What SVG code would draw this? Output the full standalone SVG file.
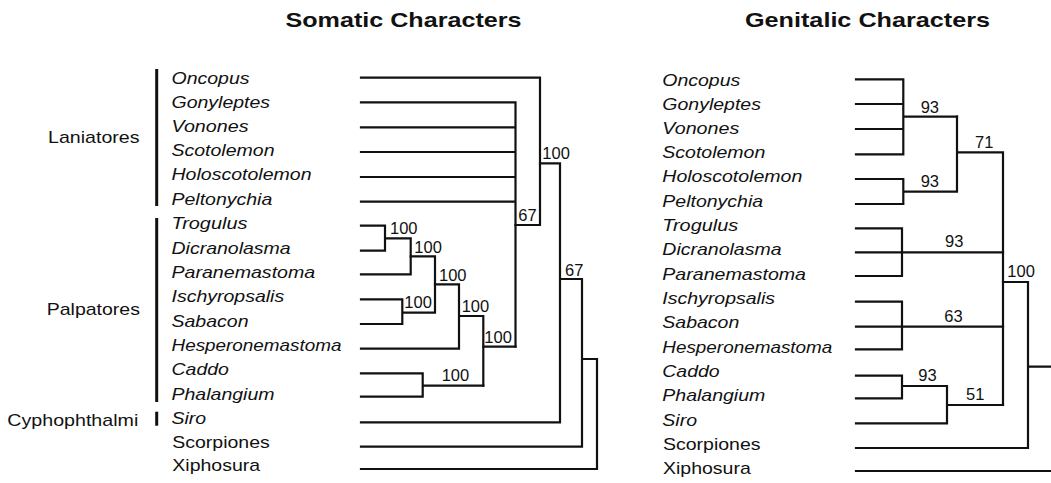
<svg xmlns="http://www.w3.org/2000/svg" width="1051" height="483" viewBox="0 0 1051 483">
<style>
.t{font-family:"Liberation Sans",Arial,Helvetica,sans-serif;font-size:17px;fill:#111}
.i{font-style:italic}
.h{font-family:"Liberation Sans",Arial,Helvetica,sans-serif;font-size:20.5px;font-weight:bold;fill:#111}
.n{font-family:"Liberation Sans",Arial,Helvetica,sans-serif;font-size:16.5px;fill:#111}
.e{fill:none;stroke:#111;stroke-width:2.2;stroke-linecap:square;stroke-linejoin:miter}
.b{stroke:#111;stroke-width:3}
</style>
<rect width="1051" height="483" fill="#fff"/>
<g id="titles">
<text class="h" x="285.5" y="27" textLength="236" lengthAdjust="spacingAndGlyphs">Somatic Characters</text>
<text class="h" x="745" y="27" textLength="245" lengthAdjust="spacingAndGlyphs">Genitalic Characters</text>
</g>
<g id="groups">
<g id="g-laniatores"><text class="t" x="48" y="142.7" textLength="91.5" lengthAdjust="spacingAndGlyphs">Laniatores</text><line class="b" x1="156.7" y1="69" x2="156.7" y2="206"/></g>
<g id="g-palpatores"><text class="t" x="46.7" y="315" textLength="93.3" lengthAdjust="spacingAndGlyphs">Palpatores</text><line class="b" x1="156.7" y1="218" x2="156.7" y2="402"/></g>
<g id="g-cyphophthalmi"><text class="t" x="7.3" y="425.5" textLength="131" lengthAdjust="spacingAndGlyphs">Cyphophthalmi</text><line class="b" x1="156.7" y1="411.7" x2="156.7" y2="425.7"/></g>
</g>
<g id="left-taxa">
<g id="L-oncopus"><text class="t i" x="171.5" y="83.5" textLength="78" lengthAdjust="spacingAndGlyphs">Oncopus</text></g>
<g id="L-gonyleptes"><text class="t i" x="171.5" y="107.7" textLength="98.6" lengthAdjust="spacingAndGlyphs">Gonyleptes</text></g>
<g id="L-vonones"><text class="t i" x="171.5" y="131.9" textLength="77" lengthAdjust="spacingAndGlyphs">Vonones</text></g>
<g id="L-scotolemon"><text class="t i" x="171.5" y="156.1" textLength="103" lengthAdjust="spacingAndGlyphs">Scotolemon</text></g>
<g id="L-holoscotolemon"><text class="t i" x="171.5" y="180.3" textLength="140" lengthAdjust="spacingAndGlyphs">Holoscotolemon</text></g>
<g id="L-peltonychia"><text class="t i" x="171.5" y="204.5" textLength="100.8" lengthAdjust="spacingAndGlyphs">Peltonychia</text></g>
<g id="L-trogulus"><text class="t i" x="171.5" y="229.2" textLength="75.9" lengthAdjust="spacingAndGlyphs">Trogulus</text></g>
<g id="L-dicranolasma"><text class="t i" x="171.5" y="253.6" textLength="119.2" lengthAdjust="spacingAndGlyphs">Dicranolasma</text></g>
<g id="L-paranemastoma"><text class="t i" x="171.5" y="278" textLength="143.7" lengthAdjust="spacingAndGlyphs">Paranemastoma</text></g>
<g id="L-ischyropsalis"><text class="t i" x="171.5" y="302.3" textLength="112.7" lengthAdjust="spacingAndGlyphs">Ischyropsalis</text></g>
<g id="L-sabacon"><text class="t i" x="171.5" y="326.6" textLength="77" lengthAdjust="spacingAndGlyphs">Sabacon</text></g>
<g id="L-hesperonemastoma"><text class="t i" x="171.5" y="350.9" textLength="170" lengthAdjust="spacingAndGlyphs">Hesperonemastoma</text></g>
<g id="L-caddo"><text class="t i" x="171.5" y="375.2" textLength="57.4" lengthAdjust="spacingAndGlyphs">Caddo</text></g>
<g id="L-phalangium"><text class="t i" x="171.5" y="399.5" textLength="103" lengthAdjust="spacingAndGlyphs">Phalangium</text></g>
<g id="L-siro"><text class="t i" x="171.5" y="423.8" textLength="34.7" lengthAdjust="spacingAndGlyphs">Siro</text></g>
<g id="L-scorpiones"><text class="t" x="172.3" y="447.5" textLength="97.5" lengthAdjust="spacingAndGlyphs">Scorpiones</text></g>
<g id="L-xiphosura"><text class="t" x="172.3" y="471" textLength="87.8" lengthAdjust="spacingAndGlyphs">Xiphosura</text></g>
</g>
<g id="right-taxa">
<g id="R-oncopus"><text class="t i" x="662.3" y="85.5" textLength="78" lengthAdjust="spacingAndGlyphs">Oncopus</text></g>
<g id="R-gonyleptes"><text class="t i" x="662.3" y="109.7" textLength="98.6" lengthAdjust="spacingAndGlyphs">Gonyleptes</text></g>
<g id="R-vonones"><text class="t i" x="662.3" y="133.9" textLength="77" lengthAdjust="spacingAndGlyphs">Vonones</text></g>
<g id="R-scotolemon"><text class="t i" x="662.3" y="158.1" textLength="103" lengthAdjust="spacingAndGlyphs">Scotolemon</text></g>
<g id="R-holoscotolemon"><text class="t i" x="662.3" y="182.3" textLength="140" lengthAdjust="spacingAndGlyphs">Holoscotolemon</text></g>
<g id="R-peltonychia"><text class="t i" x="662.3" y="206.5" textLength="100.8" lengthAdjust="spacingAndGlyphs">Peltonychia</text></g>
<g id="R-trogulus"><text class="t i" x="662.3" y="231" textLength="75.9" lengthAdjust="spacingAndGlyphs">Trogulus</text></g>
<g id="R-dicranolasma"><text class="t i" x="662.3" y="255.3" textLength="119.2" lengthAdjust="spacingAndGlyphs">Dicranolasma</text></g>
<g id="R-paranemastoma"><text class="t i" x="662.3" y="279.6" textLength="143.7" lengthAdjust="spacingAndGlyphs">Paranemastoma</text></g>
<g id="R-ischyropsalis"><text class="t i" x="662.3" y="304" textLength="112.7" lengthAdjust="spacingAndGlyphs">Ischyropsalis</text></g>
<g id="R-sabacon"><text class="t i" x="662.3" y="328.3" textLength="77" lengthAdjust="spacingAndGlyphs">Sabacon</text></g>
<g id="R-hesperonemastoma"><text class="t i" x="662.3" y="352.6" textLength="170" lengthAdjust="spacingAndGlyphs">Hesperonemastoma</text></g>
<g id="R-caddo"><text class="t i" x="662.3" y="377" textLength="57.4" lengthAdjust="spacingAndGlyphs">Caddo</text></g>
<g id="R-phalangium"><text class="t i" x="662.3" y="401.3" textLength="103" lengthAdjust="spacingAndGlyphs">Phalangium</text></g>
<g id="R-siro"><text class="t i" x="662.3" y="425.6" textLength="34.7" lengthAdjust="spacingAndGlyphs">Siro</text></g>
<g id="R-scorpiones"><text class="t" x="663" y="450" textLength="97.5" lengthAdjust="spacingAndGlyphs">Scorpiones</text></g>
<g id="R-xiphosura"><text class="t" x="663" y="474" textLength="87.8" lengthAdjust="spacingAndGlyphs">Xiphosura</text></g>
</g>
<g id="connectors">
<g id="left-tree">
<path class="e" d="M361 77.7H540V225H515.5"/>
<path class="e" d="M361 102.3H515.5M361 127.3H515.5M361 152H515.5M361 177H515.5M361 201.7H515.5M515.5 102.3V346.7"/>
<path class="e" d="M361 225.7H385V250.7H361M385 238.3H410.7V274.3H361"/>
<path class="e" d="M410.7 256.3H435V312.7M361 299.3H402.3V324H361M402.3 312.7H435"/>
<path class="e" d="M435 284.3H459V348.7H361M459 316H483.3V385.7"/>
<path class="e" d="M361 373.3H422.7V396.7H361M422.7 385.7H483.3M483.3 346.7H515.5"/>
<path class="e" d="M540 163.3H560V422.3H361M560 279H582V446.7H361M582 359H597V469H361"/>
</g>
<g id="right-tree">
<path class="e" d="M856 79.3H903.3M856 104H903.3M856 129H903.3M856 154.3H903.3M903.3 79.3V154.3M903.3 116.7H957"/>
<path class="e" d="M856 179H903.3V204H856M903.3 191.7H957M957 116.7V191.7M957 152.3H1003V405"/>
<path class="e" d="M856 228.3H902V276H856M856 252.3H1003"/>
<path class="e" d="M856 301.7H902V349.3H856M856 326.7H1003"/>
<path class="e" d="M856 375.7H902V398.3H856M902 386H947V423.3H856M947 405H1003"/>
<path class="e" d="M1003 282H1028V448H856M1028 366.7H1052M856 471H1052"/>
</g>
</g>
<g id="support-values">
<text class="n" x="390" y="234">100</text>
<text class="n" x="414.3" y="253">100</text>
<text class="n" x="439" y="281">100</text>
<text class="n" x="404.3" y="308.3">100</text>
<text class="n" x="461.7" y="312.3">100</text>
<text class="n" x="484.3" y="342.7">100</text>
<text class="n" x="441.7" y="380.7">100</text>
<text class="n" x="518.3" y="220.7">67</text>
<text class="n" x="542.3" y="159">100</text>
<text class="n" x="565" y="275.7">67</text>
<text class="n" x="920.7" y="112.7">93</text>
<text class="n" x="920.7" y="187.3">93</text>
<text class="n" x="975" y="147.7">71</text>
<text class="n" x="945" y="247.3">93</text>
<text class="n" x="1007.3" y="276.7">100</text>
<text class="n" x="944.3" y="321.7">63</text>
<text class="n" x="918.3" y="381">93</text>
<text class="n" x="966" y="400">51</text>
</g>
</svg>
